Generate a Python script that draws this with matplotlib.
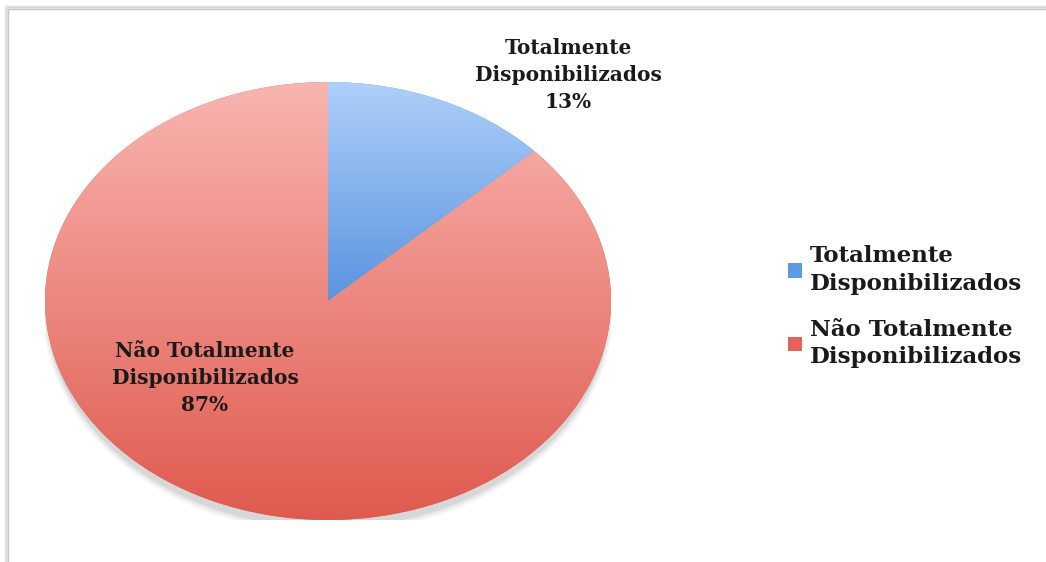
import numpy as np
import matplotlib
matplotlib.use("Agg")
import matplotlib.pyplot as plt
from matplotlib.colors import LinearSegmentedColormap
from matplotlib.patches import Rectangle, Ellipse

categories = ["Totalmente\nDisponibilizados", "Não Totalmente\nDisponibilizados"]
values = [13, 87]
legend_colors = ["#5b9be6", "#e5625a"]
grad_top = ["#aed0fa", "#f9b5b0"]
grad_bot = ["#5a93df", "#df5a4e"]

W, H = 1046, 562
fig = plt.figure(figsize=(W / 100, H / 100), dpi=100)
fig.patch.set_facecolor("white")

# frame with soft shadow
bg = fig.add_axes([0, 0, 1, 1])
bg.set_xlim(0, W); bg.set_ylim(H, 0); bg.axis("off")
for i, a in enumerate([0.05, 0.08, 0.12]):
    off = 3 - i
    bg.add_patch(Rectangle((8 - off, 9 - off), W + 20, H + 20,
                           fill=False, ec="#000000", lw=1.2, alpha=a))
bg.add_patch(Rectangle((8, 9), W + 20, H + 20, fill=False, ec="#c8c8c8", lw=1.0))

# pie axes (elliptical)
L, R, T, B = 45, 611, 82, 520
ax = fig.add_axes([L / W, (H - B) / H, (R - L) / W, (B - T) / H])
ax.set_facecolor("none")
# shadow (mostly below)
for k, a in enumerate([0.04, 0.05, 0.07]):
    s = 1.0 + 0.006 * (3 - k)
    ax.add_patch(Ellipse((0, -0.025 - 0.005 * (3 - k)), 2 * s * 0.99, 2 * s,
                         fc="#000000", ec="none", alpha=a))
wedges, _ = ax.pie(values, colors=legend_colors, startangle=90, counterclock=False,
                   radius=1.0, wedgeprops=dict(lw=0))
ax.set_aspect("auto")
ax.axis("off")

grad = np.linspace(1, 0, 256).reshape(-1, 1)
extents = [[-1, 1, 0, 1], [-1, 1, -1, 1]]
for w, top, bot, ext in zip(wedges, grad_top, grad_bot, extents):
    cmap = LinearSegmentedColormap.from_list("g", [bot, top])
    im = ax.imshow(grad, cmap=cmap, extent=ext, aspect="auto", origin="upper",
                   vmin=0, vmax=1, zorder=w.get_zorder() + 0.1)
    im.set_clip_path(w)
ax.set_xlim(-1, 1); ax.set_ylim(-1, 1)

# data labels
font = dict(family=["DejaVu Serif"], weight="bold", size=14.5, color="#1a1a1a")
label_pos = [(568, 75), (205, 378)]
for cat, v, (x, y) in zip(categories, values, label_pos):
    fig.text(x / W, 1 - y / H, f"{cat}\n{v}%", ha="center", va="center",
             linespacing=1.42, **font)

# legend
leg = fig.legend(wedges, categories, loc="upper left",
                 bbox_to_anchor=(779 / W, 1 - 236 / H), frameon=False,
                 prop=dict(family="DejaVu Serif", weight="bold", size=16.5),
                 handlelength=0.6, handleheight=0.6, handletextpad=0.35,
                 labelspacing=1.05, borderaxespad=0)
for t in leg.get_texts():
    t.set_color("#1a1a1a")
    t.set_linespacing(1.32)

fig.savefig("out.png", dpi=100, facecolor="white")
